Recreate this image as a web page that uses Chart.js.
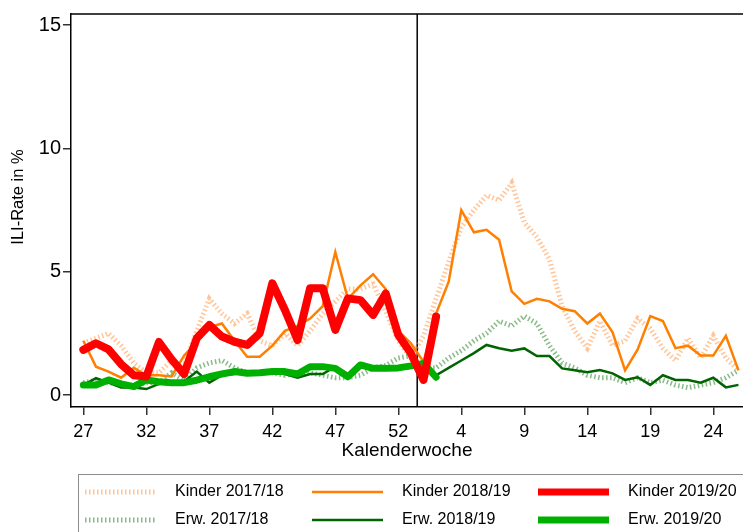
<!DOCTYPE html>
<html>
<head>
<meta charset="utf-8">
<script src="https://cdn.jsdelivr.net/npm/chart.js@4/dist/chart.umd.min.js"></script>
<style>
  html, body { margin: 0; padding: 0; background: #fff; }
  #wrap { width: 743px; height: 532px; }
</style>
</head>
<body>
<div id="wrap"><canvas id="chart" width="743" height="532"></canvas></div>
<script>
// Kalenderwochen 27..53, 1..26
const weeks = [27,28,29,30,31,32,33,34,35,36,37,38,39,40,41,42,43,44,45,46,47,48,49,50,51,52,53,
               1,2,3,4,5,6,7,8,9,10,11,12,13,14,15,16,17,18,19,20,21,22,23,24,25,26];
const xTickIdx = [0,5,10,15,20,25,30,35,40,45,50];
const yTicks = [0,5,10,15];

// ILI-Rate in %
const kinder1718 = [2.1,2.3,2.5,2.0,1.3,0.9,0.9,1.4,1.2,2.6, 3.9,3.3,2.9,3.3,2.2,2.0,2.5,2.0,2.6,3.3,
                    3.8,4.3,4.3,4.5,3.4,2.2,1.5,2.4,3.9,5.4, 6.8,7.5,8.1,7.9,8.6,7.0,6.4,5.5,3.6,2.6,
                    1.9,3.0,2.0,2.2,3.1,2.7,1.9,1.4,2.3,1.5, 2.4,1.5,1.0];
const kinder1819 = [2.2,1.15,0.95,0.7,1.1,0.8,0.8,0.75,1.6,2.15, 2.75,2.9,2.2,1.55,1.55,2.0,2.6,2.8,3.1,3.6,
                    5.8,3.9,4.45,4.9,4.3,2.6,2.1,1.35,3.3,4.6, 7.5,6.6,6.7,6.3,4.2,3.7,3.9,3.8,3.5,3.4,
                    2.9,3.3,2.55,1.0,1.85,3.2,3.0,1.9,2.0,1.6, 1.6,2.4,1.0];
const kinder1920 = [1.83,2.1,1.85,1.25,0.8,0.75,2.15,1.45,0.85,2.3, 2.84,2.37,2.16,2.03,2.5,4.53,3.45,2.23,4.33,4.33,
                    2.64,3.92,3.85,3.25,4.12,2.43,1.69,0.61,3.18];
const erw1718 = [0.5,0.6,0.5,0.4,0.4,0.5,0.5,0.9,0.6,1.1, 1.3,1.4,1.1,0.9,0.9,0.9,0.8,0.9,0.9,0.8,
                 0.7,0.7,0.8,1.1,1.2,1.5,1.6,1.1,1.1,1.5, 1.8,2.2,2.5,3.0,2.8,3.2,2.9,2.0,1.3,1.1,
                 0.8,0.7,0.7,0.5,0.7,0.5,0.6,0.4,0.3,0.4, 0.5,0.7,1.0];
const erw1819 = [0.4,0.68,0.5,0.3,0.3,0.24,0.45,0.55,0.55,0.95, 0.5,0.8,0.85,0.9,0.88,0.9,0.85,0.7,0.85,0.85,
                 1.15,0.85,1.15,1.1,1.05,1.05,1.1,1.2,0.8,1.1, 1.4,1.7,2.03,1.9,1.8,1.89,1.58,1.58,1.08,1.0,
                 0.92,1.01,0.88,0.61,0.72,0.41,0.8,0.61,0.61,0.5, 0.7,0.31,0.41];
const erw1920 = [0.41,0.41,0.61,0.45,0.34,0.61,0.54,0.5,0.5,0.6, 0.74,0.85,0.95,0.88,0.9,0.95,0.95,0.85,1.15,1.15,
                 1.08,0.74,1.22,1.08,1.08,1.1,1.18,1.28,0.72];

const FONT = '"Liberation Sans", Arial, Helvetica, sans-serif';
Chart.defaults.font.family = FONT;
Chart.defaults.color = '#000';

function pts(arr) {
  return arr.map((v, i) => ({x: i, y: v}));
}

const dotted = [1.5, 2.5];

const datasets = [
  {label: 'Kinder 2019/20', data: pts(kinder1920), borderColor: '#ff0000', borderWidth: 8, order: 0,
   borderCapStyle: 'round', borderJoinStyle: 'round'},
  {label: 'Erw. 2019/20', data: pts(erw1920), borderColor: '#00b000', borderWidth: 7, order: 1,
   borderCapStyle: 'round', borderJoinStyle: 'round'},
  {label: 'Kinder 2018/19', data: pts(kinder1819), borderColor: '#ff7f00', borderWidth: 2.5, order: 2},
  {label: 'Erw. 2018/19', data: pts(erw1819), borderColor: '#006400', borderWidth: 2.5, order: 3},
  {label: 'Kinder 2017/18', data: pts(kinder1718), borderColor: 'rgba(255,150,70,0.55)', borderWidth: 5,
   borderDash: dotted, order: 4},
  {label: 'Erw. 2017/18', data: pts(erw1718), borderColor: 'rgba(40,130,40,0.55)', borderWidth: 5,
   borderDash: dotted, order: 5}
];

// Reihenfolge in der Legende: oben Kinder, unten Erwachsene
const legendRows = [['Kinder 2017/18', 'Kinder 2018/19', 'Kinder 2019/20'],
                    ['Erw. 2017/18', 'Erw. 2018/19', 'Erw. 2019/20']];

const extras = {
  id: 'extras',
  beforeDatasetsDraw(chart) {
    const {ctx, chartArea, scales} = chart;
    ctx.save();
    ctx.strokeStyle = '#000';
    ctx.lineWidth = 1.5;
    // Jahreswechsel
    const xl = scales.x.getPixelForValue(26.5);
    ctx.beginPath();
    ctx.moveTo(xl, chartArea.top);
    ctx.lineTo(xl, chartArea.bottom);
    ctx.stroke();
    // oberer Rahmen
    ctx.beginPath();
    ctx.moveTo(chartArea.left, chartArea.top);
    ctx.lineTo(chartArea.right, chartArea.top);
    ctx.stroke();
    ctx.restore();
  },
  afterDraw(chart) {
    const ctx = chart.ctx;
    ctx.save();
    // y-Achsentitel
    ctx.save();
    ctx.translate(18, 197);
    ctx.rotate(-Math.PI / 2);
    ctx.font = '16.5px ' + FONT;
    ctx.fillStyle = '#000';
    ctx.textAlign = 'center';
    ctx.textBaseline = 'middle';
    ctx.fillText('ILI-Rate in %', 0, 0);
    ctx.restore();

    // Legende
    ctx.strokeStyle = '#8c8c8c';
    ctx.lineWidth = 1;
    ctx.strokeRect(78.5, 474.5, 700, 100);
    const colX = [85, 312, 538];
    const rowY = [492, 520];
    ctx.font = '16px ' + FONT;
    ctx.textBaseline = 'middle';
    ctx.textAlign = 'left';
    legendRows.forEach((row, r) => {
      row.forEach((label, c) => {
        const ds = chart.data.datasets.find(d => d.label === label);
        const y = rowY[r];
        ctx.save();
        ctx.strokeStyle = ds.borderColor;
        ctx.lineWidth = Math.min(ds.borderWidth, 7);
        ctx.setLineDash(ds.borderDash || []);
        ctx.beginPath();
        ctx.moveTo(colX[c], y);
        ctx.lineTo(colX[c] + 71, y);
        ctx.stroke();
        ctx.restore();
        ctx.fillStyle = '#000';
        ctx.fillText(label, colX[c] + 90, y);
      });
    });
    ctx.restore();
  }
};

new Chart(document.getElementById('chart'), {
  type: 'line',
  data: {datasets: datasets},
  options: {
    responsive: false,
    animation: false,
    devicePixelRatio: 1,
    layout: {padding: {top: 14, bottom: 70, left: 0, right: 0}},
    elements: {point: {radius: 0}, line: {tension: 0}},
    plugins: {legend: {display: false}, tooltip: {enabled: false}},
    scales: {
      x: {
        type: 'linear',
        min: -0.98,
        max: 52.36,
        afterBuildTicks: s => { s.ticks = xTickIdx.map(v => ({value: v})); },
        afterFit: s => { s.height = 55; },
        ticks: {
          callback: v => String(weeks[v]),
          font: {size: 18},
          color: '#000',
          padding: 6,
          maxRotation: 0,
          autoSkip: false
        },
        grid: {drawOnChartArea: false, drawTicks: true, tickLength: 8, color: '#333', lineWidth: 1.5},
        border: {display: true, color: '#000', width: 1.5},
        title: {display: true, text: 'Kalenderwoche', font: {size: 19}, color: '#000',
                padding: {top: 0, bottom: 0}}
      },
      y: {
        type: 'linear',
        min: -0.487,
        max: 15.456,
        afterBuildTicks: s => { s.ticks = yTicks.map(v => ({value: v})); },
        afterFit: s => { s.width = 71; },
        ticks: {font: {size: 20}, color: '#000', padding: 2},
        grid: {drawOnChartArea: false, drawTicks: true, tickLength: 8, color: '#333', lineWidth: 1.5},
        border: {display: true, color: '#000', width: 1.5}
      }
    }
  },
  plugins: [extras]
});
</script>
</body>
</html>
